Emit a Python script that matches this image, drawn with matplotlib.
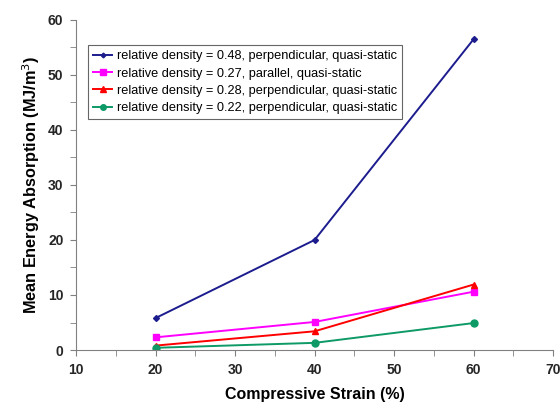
import matplotlib.pyplot as plt
from matplotlib.ticker import MultipleLocator

plt.rcParams['font.family'] = ['Liberation Sans', 'DejaVu Sans']

strain = [20, 40, 60]
rd048_perp = [5.8, 20.0, 56.5]
rd027_par = [2.3, 5.1, 10.6]
rd028_perp = [0.8, 3.4, 11.9]
rd022_perp = [0.4, 1.3, 4.9]

labels = ['relative density = 0.48, perpendicular, quasi-static',
          'relative density = 0.27, parallel, quasi-static',
          'relative density = 0.28, perpendicular, quasi-static',
          'relative density = 0.22, perpendicular, quasi-static']

fig = plt.figure(figsize=(5.6, 4.03), dpi=100)
ax = fig.add_axes([0.1357, 0.1315, 0.852, 0.819])

ax.plot(strain, rd048_perp, '-D', color='#1c1c8e', ms=3, lw=1.4, label=labels[0])
ax.plot(strain, rd027_par, '-s', color='#ff00ff', ms=5, lw=1.4, label=labels[1])
ax.plot(strain, rd028_perp, '-^', color='#ff0000', ms=5, lw=1.4, label=labels[2])
ax.plot(strain, rd022_perp, '-o', color='#0d9a66', ms=5, lw=1.4, label=labels[3])

ax.set_xlim(10, 70)
ax.set_ylim(0, 60)
ax.xaxis.set_major_locator(MultipleLocator(10))
ax.xaxis.set_minor_locator(MultipleLocator(5))
ax.yaxis.set_major_locator(MultipleLocator(10))
ax.yaxis.set_minor_locator(MultipleLocator(5))
ax.tick_params(which='both', direction='out', length=4, color='#808080', pad=5)
ax.tick_params(labelsize=10)
for lab in ax.get_xticklabels() + ax.get_yticklabels():
    lab.set_fontweight('bold')
    lab.set_color('#262626')
for s in ['top', 'right']:
    ax.spines[s].set_visible(False)
for s in ['left', 'bottom']:
    ax.spines[s].set_color('#808080')

ax.set_xlabel('Compressive Strain (%)', fontsize=11.5, fontweight='bold')
ax.xaxis.set_label_coords(0.5, -0.136)
ax.xaxis.label.set_va('center')
ax.set_ylabel('Mean Energy Absorption (MJ/m$^3$)', fontsize=11.7, fontweight='bold')
ax.yaxis.set_label_coords(-0.095, 0.5)
ax.yaxis.label.set_va('center')

leg = ax.legend(loc='upper left', bbox_to_anchor=(0.025, 0.924), borderaxespad=0,
                fontsize=9.2, frameon=True, fancybox=False, edgecolor='#404040',
                handlelength=1.5, handletextpad=0.35, borderpad=0.4,
                labelspacing=0.42, markerscale=0.8)
leg.get_frame().set_linewidth(0.8)

fig.savefig('out.png', dpi=100)
